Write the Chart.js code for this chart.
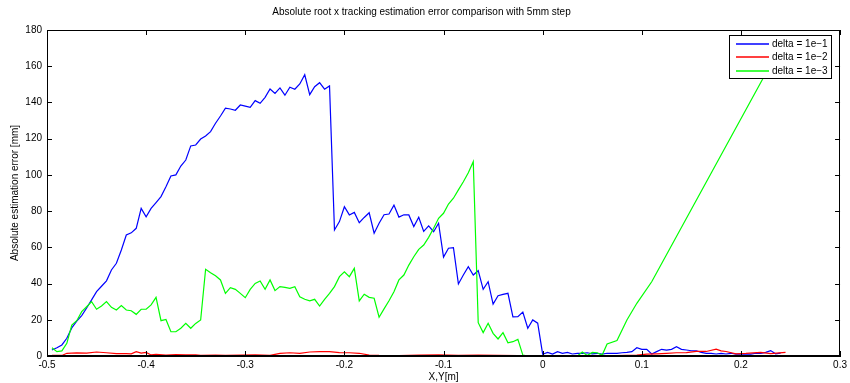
<!DOCTYPE html>
<html><head><meta charset="utf-8">
<script src="https://cdn.jsdelivr.net/npm/chart.js@4"></script>
<style>html,body{margin:0;padding:0;background:#fff;overflow:hidden}</style>
</head><body>
<canvas id="c" width="850" height="383" style="width:850px;height:383px;display:block"></canvas>
<script>
const TITLE = 'Absolute root x tracking estimation error comparison with 5mm step';
const X_LABEL = 'X,Y[m]';
const Y_LABEL = 'Absolute estimation error [mm]';
const SERIES_NAMES = ['delta = 1e\u22121', 'delta = 1e\u22122', 'delta = 1e\u22123'];
const X_TICKS = [-0.5, -0.4, -0.3, -0.2, -0.1, 0, 0.1, 0.2, 0.3];
const Y_TICKS = [0, 20, 40, 60, 80, 100, 120, 140, 160, 180];

// delta = 1e-1 sampled every 5 mm from x = -0.495
const X_START = -0.495, X_STEP = 0.005;
const blueY = [3.3,4.6,6.1,9.8,15.5,19.2,22.3,26.5,31,35.5,38.5,41.5,47.5,51.2,58.5,66.8,68,70.5,81.5,76.9,
  81.5,84.7,88,93.5,99.4,100,104.9,108.2,116,116.5,119.8,121.5,123.9,128.5,132.5,136.9,136.4,135.7,138.6,138,
  137.3,141,139.5,142.8,147.4,145,148,144,148.4,147.3,150.2,155.3,144.3,148.7,150.9,147.3,149.1,69.6,74.2,82.4,
  77.9,79.3,73.6,76.5,79.1,67.8,73.3,78,78.4,83.3,76.7,78,77.9,71.5,76.6,68.8,71.8,68.6,73.3,54.6,
  59.5,59.8,39.8,44.7,49.3,44.7,47.1,36.8,41,28.7,33.3,34,34.6,21.6,21.7,24.3,15.3,19.9,18.1,1,
  2,1.1,2.4,1.5,2,1.1,1.5,1.5,1.8,1.2,1.5,1,1.5,1.5,1.5,1.8,2,2.4,4.6,3.7,
  3.7,1.1,2.4,3.7,3.3,3.7,5.1,3.7,3.3,2.9,2.9,2,1.5,1.5,1.1,1.5,1.1,1.5,1,1,
  1.2,1,1.5,1.5,2,3,1.2,1.6];
const blueX = blueY.map((_, i) => +(X_START + X_STEP * i).toFixed(3));

// delta = 1e-2
const redX = [-0.495,-0.485,-0.48,-0.47,-0.46,-0.45,-0.44,-0.43,-0.42,-0.415,-0.41,-0.405,-0.4,-0.395,-0.39,-0.38,-0.37,-0.36,-0.35,-0.345,
  -0.33,-0.32,-0.305,-0.29,-0.275,-0.265,-0.255,-0.245,-0.235,-0.225,-0.215,-0.205,-0.195,-0.185,-0.175,-0.165,-0.145,-0.125,-0.105,-0.085,
  -0.065,-0.045,-0.025,-0.005,0.015,0.055,0.075,0.095,0.105,0.115,0.125,0.135,0.145,0.155,0.165,0.175,0.18,0.185,0.195,0.205,
  0.22,0.23,0.245];
const redY = [0.3,0.3,1.5,1.7,1.6,2.2,1.8,1.3,1.3,1.2,2.4,1.6,2,0.6,0.9,0.5,0.8,0.6,0.6,0.3,
  0.5,0.4,0.5,0.6,0.4,1.4,1.8,1.5,2.2,2.4,2.4,1.9,1.8,1.5,0.5,0.3,0.2,0.5,0.6,0.3,
  0.5,0.4,0.2,0.1,0,0,0.2,0.5,1,1.2,1.5,1.8,1.9,2.6,2.5,3.8,2.8,2.5,1.2,1.4,
  2,1.3,2];

// delta = 1e-3
const greenX = [-0.495,-0.49,-0.485,-0.48,-0.475,-0.47,-0.465,-0.46,-0.455,-0.45,-0.445,-0.44,-0.435,-0.43,-0.425,-0.42,-0.415,-0.41,-0.405,-0.4,
  -0.395,-0.39,-0.385,-0.38,-0.375,-0.37,-0.365,-0.36,-0.355,-0.35,-0.345,-0.34,-0.335,-0.33,-0.325,-0.32,-0.315,-0.31,-0.305,-0.3,
  -0.295,-0.29,-0.285,-0.28,-0.275,-0.27,-0.265,-0.26,-0.255,-0.25,-0.245,-0.24,-0.235,-0.23,-0.225,-0.22,-0.215,-0.21,-0.205,-0.2,
  -0.195,-0.19,-0.185,-0.18,-0.175,-0.17,-0.165,-0.16,-0.155,-0.15,-0.145,-0.14,-0.135,-0.13,-0.125,-0.12,-0.115,-0.11,-0.105,-0.1,
  -0.095,-0.09,-0.085,-0.08,-0.075,-0.07,-0.065,-0.06,-0.055,-0.05,-0.045,-0.04,-0.035,-0.03,-0.025,-0.02,-0.015,0.035,0.04,0.045,
  0.05,0.055,0.06,0.065,0.075,0.085,0.095,0.11,0.225,0.245];
const greenY = [4.6,2.4,2.8,7,17.1,19.5,24.5,27.2,30,25.8,27.6,30,26.9,25.4,27.8,25.4,25,23,25.8,25.8,
  28.2,32.4,19.5,20.2,13.4,13.4,15.3,18,15.3,18,19.9,47.9,46,44.3,42,34.6,37.7,36.8,34.6,32.2,
  36.8,40.1,41.4,36.8,42,36.1,38.3,37.9,37.4,38.3,32.7,31.3,30.5,31.3,27.6,31.3,34.6,38.3,43.8,46.5,
  43.8,48.4,30.4,34.1,32.4,31.9,21.4,26,30.5,35.5,42,44.7,50.2,54.8,58.9,61.3,65.5,70.5,76,78.8,
  83.9,87.1,91.7,96.2,101.2,107.3,18.4,12.9,18.1,12.5,9.4,12.9,7.3,7.9,9.2,0.5,0,0,2.2,0.3,
  2,1.8,0.5,6.6,8.5,19.9,29.1,41,156,176];

const COLORS = ['#0000ff', '#ff0000', '#00ff00'];
const toPts = (xs, ys) => xs.map((x, i) => ({x, y: ys[i]}));
const FONT = 'Liberation Sans, Arial, Helvetica, sans-serif';

const fmt = v => { const n = Math.round(v * 10) / 10; return String(n); };

const matlabAxes = {
  id: 'matlabAxes',
  afterDatasetsDraw(chart) {
    const {ctx, chartArea: a, scales: {x, y}} = chart;
    ctx.save();
    ctx.strokeStyle = '#000';
    ctx.lineWidth = 1;
    ctx.beginPath();
    const L = 5;
    X_TICKS.forEach(v => {
      const p = Math.round(x.getPixelForValue(v)) + 0.5;
      ctx.moveTo(p, a.bottom); ctx.lineTo(p, a.bottom - L);
      ctx.moveTo(p, a.top); ctx.lineTo(p, a.top + L);
    });
    Y_TICKS.forEach(v => {
      const p = Math.round(y.getPixelForValue(v)) + 0.5;
      ctx.moveTo(a.left, p); ctx.lineTo(a.left + L, p);
      ctx.moveTo(a.right, p); ctx.lineTo(a.right - L, p);
    });
    ctx.stroke();
    ctx.strokeRect(Math.round(a.left) + 0.5, Math.round(a.top) + 0.5, Math.round(a.right - a.left) - 1, Math.round(a.bottom - a.top) - 1);

    // legend box (top-right inside the axes)
    const bw = 102, bh = 43;
    const bx = Math.round(a.right) - 9 - bw, by = Math.round(a.top) + 5;
    ctx.fillStyle = '#fff';
    ctx.fillRect(bx, by, bw, bh);
    ctx.strokeStyle = '#000';
    ctx.lineWidth = 1;
    ctx.strokeRect(bx + 0.5, by + 0.5, bw, bh);
    ctx.font = '10px ' + FONT;
    ctx.textBaseline = 'middle';
    ctx.textAlign = 'left';
    SERIES_NAMES.forEach((name, i) => {
      const yy = Math.round(by + 9 + i * 13.3);
      ctx.strokeStyle = COLORS[i];
      ctx.lineWidth = 1.4;
      ctx.beginPath();
      ctx.moveTo(bx + 7, yy);
      ctx.lineTo(bx + 40, yy);
      ctx.stroke();
      ctx.fillStyle = '#000';
      ctx.fillText(name, bx + 43, yy);
    });
    ctx.restore();
  }
};

new Chart(document.getElementById('c'), {
  type: 'line',
  data: {
    datasets: [
      {label: SERIES_NAMES[0], data: toPts(blueX, blueY), borderColor: COLORS[0], order: 3},
      {label: SERIES_NAMES[1], data: toPts(redX, redY), borderColor: COLORS[1], order: 2},
      {label: SERIES_NAMES[2], data: toPts(greenX, greenY), borderColor: COLORS[2], order: 1}
    ]
  },
  options: {
    responsive: false,
    animation: false,
    devicePixelRatio: 1,
    layout: {padding: {left: 0, right: 7, top: 0, bottom: 0}},
    elements: {
      line: {borderWidth: 1.2, tension: 0, fill: false},
      point: {radius: 0, hoverRadius: 0}
    },
    plugins: {
      legend: {display: false},
      tooltip: {enabled: false},
      title: {
        display: true, text: TITLE, color: '#000',
        font: {family: FONT, size: 10, weight: 'normal'},
        padding: {top: 6, bottom: 12}
      }
    },
    scales: {
      x: {
        type: 'linear', min: -0.5, max: 0.3,
        afterBuildTicks: s => { s.ticks = X_TICKS.map(v => ({value: v})); },
        afterFit: s => { s.height = 27; },
        grid: {display: false, drawTicks: false},
        border: {display: true, color: '#000', width: 1},
        ticks: {color: '#000', font: {family: FONT, size: 10}, padding: 3, maxRotation: 0, autoSkip: false, callback: v => fmt(v)},
        title: {display: true, text: X_LABEL, color: '#000', font: {family: FONT, size: 10}, padding: {top: 0, bottom: 0}}
      },
      y: {
        type: 'linear', min: 0, max: 180,
        afterBuildTicks: s => { s.ticks = Y_TICKS.map(v => ({value: v})); },
        afterFit: s => { s.width = 47; },
        grid: {display: false, drawTicks: false},
        border: {display: true, color: '#000', width: 1},
        ticks: {color: '#000', font: {family: FONT, size: 10}, padding: 5, autoSkip: false, callback: v => String(v)},
        title: {display: true, text: Y_LABEL, color: '#000', font: {family: FONT, size: 10}, padding: {top: 9, bottom: 0}}
      }
    }
  },
  plugins: [matlabAxes]
});
</script>
</body></html>
